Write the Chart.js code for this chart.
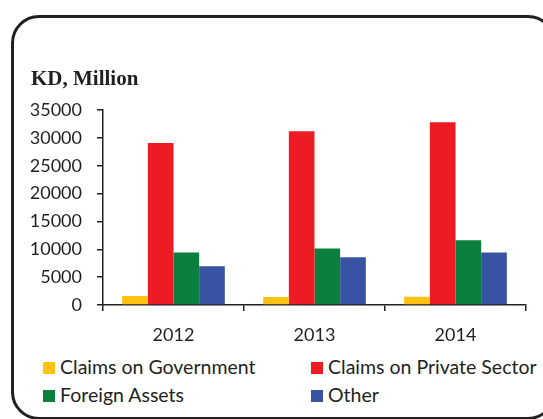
<!DOCTYPE html>
<html>
<head>
<meta charset="utf-8">
<script src="https://cdn.jsdelivr.net/npm/chart.js@4/dist/chart.umd.min.js"></script>
<style>
    body { margin: 0; background: #fff; overflow: hidden; }
    #frame {
        position: absolute; left: 11px; top: 15px;
        width: 539px; height: 399px;
        border: 3px solid #231f20; border-radius: 28px;
    }
    #assetsChart { position: absolute; left: 0; top: 0; }
    .legendItem {
        position: absolute; font-family: Lato, sans-serif; font-size: 19.5px;
        color: #231f20; white-space: nowrap; line-height: 22px;
    }
    .legendBox { position: absolute; width: 12px; height: 12px; }
</style>
</head>
<body>
<div id="frame"></div>
<canvas id="assetsChart" width="543" height="345"></canvas>
<div id="legend"></div>
<script>
let years = ["2012", "2013", "2014"];
let claimsGovernment = [1600, 1450, 1500];
let claimsPrivate = [29100, 31200, 32850];
let foreignAssets = [9450, 10150, 11650];
let other = [6950, 8600, 9450];
let seriesNames = ["Claims on Government", "Claims on Private Sector", "Foreign Assets", "Other"];
let seriesColors = ["#ffc20e", "#ed1c24", "#0b7f3e", "#3953a4"];
let yTicks = [0, 5000, 10000, 15000, 20000, 25000, 30000, 35000];

let inkColor = "#231f20";

function buildDatasets() {
    let values = [claimsGovernment, claimsPrivate, foreignAssets, other];
    let sets = [];
    for (let i = 0; i < values.length; i++) {
        sets.push({
            label: seriesNames[i],
            data: values[i],
            backgroundColor: seriesColors[i],
            borderWidth: 0,
            barPercentage: 1,
            categoryPercentage: 0.728
        });
    }
    return sets;
}

// legend laid out as a two-column grid below the chart
function drawLegend(chart) {
    let spots = [[43, 362], [311, 362], [43, 390], [311, 390]];
    let holder = document.getElementById("legend");
    chart.data.datasets.forEach(function (ds, i) {
        let box = document.createElement("div");
        box.className = "legendBox";
        box.style.left = spots[i][0] + "px";
        box.style.top = spots[i][1] + "px";
        box.style.background = ds.backgroundColor;
        holder.appendChild(box);

        let text = document.createElement("div");
        text.className = "legendItem";
        text.style.left = (spots[i][0] + 17) + "px";
        text.style.top = (spots[i][1] - 6.5) + "px";
        text.textContent = ds.label;
        holder.appendChild(text);
    });
}

let ctx = document.getElementById("assetsChart").getContext("2d");

let assetsChart = new Chart(ctx, {
    type: "bar",
    data: {
        labels: years,
        datasets: buildDatasets()
    },
    options: {
        responsive: false,
        animation: false,
        devicePixelRatio: 1,
        layout: { padding: { left: 31, right: 17, top: 67, bottom: 0 } },
        plugins: {
            legend: { display: false },
            tooltip: { enabled: false },
            title: {
                display: true,
                text: "KD, Million",
                align: "start",
                color: inkColor,
                font: { family: "'Liberation Serif', 'Times New Roman', serif", size: 21, weight: "bold" },
                padding: { top: 0, bottom: 18 }
            }
        },
        scales: {
            x: {
                afterFit: function (scale) { scale.height = 40; },
                border: { display: true, color: inkColor, width: 1.5 },
                grid: { drawOnChartArea: false, drawTicks: true, tickLength: 6, color: inkColor, lineWidth: 1.5 },
                ticks: { color: inkColor, padding: 13, font: { family: "Lato, sans-serif", size: 18 } }
            },
            y: {
                min: 0,
                max: 35000,
                afterFit: function (scale) { scale.width = 72; },
                afterBuildTicks: function (scale) {
                    scale.ticks = yTicks.map(function (v) { return { value: v }; });
                },
                border: { display: true, color: inkColor, width: 1.5 },
                grid: { drawOnChartArea: false, drawTicks: true, tickLength: 6, color: inkColor, lineWidth: 1.5 },
                ticks: {
                    color: inkColor,
                    padding: 15,
                    font: { family: "Lato, sans-serif", size: 18 },
                    callback: function (v) { return String(v); }
                }
            }
        }
    }
});

drawLegend(assetsChart);
</script>
</body>
</html>
